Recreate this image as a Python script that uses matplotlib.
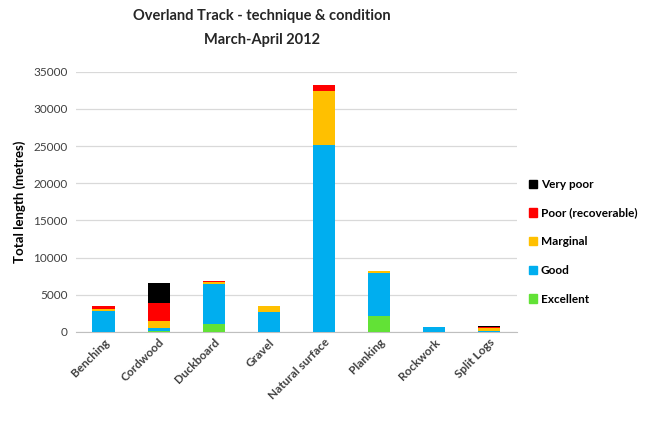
import numpy as np
import matplotlib.pyplot as plt
from matplotlib.patches import Patch

plt.rcParams['font.family'] = ['Lato', 'DejaVu Sans']

techniques = ['Benching', 'Cordwood', 'Duckboard', 'Gravel', 'Natural surface',
              'Planking', 'Rockwork', 'Split Logs']
excellent = [0, 150, 1100, 0, 0, 2100, 0, 0]
good = [2750, 350, 5300, 2650, 25100, 5850, 650, 100]
marginal = [350, 1000, 350, 800, 7300, 250, 0, 450]
poor = [400, 2400, 100, 0, 800, 0, 0, 150]
very_poor = [0, 2700, 0, 0, 0, 0, 0, 100]

series = [('Excellent', excellent, '#62e236'),
          ('Good', good, '#00aeef'),
          ('Marginal', marginal, '#ffc000'),
          ('Poor (recoverable)', poor, '#ff0000'),
          ('Very poor', very_poor, '#000000')]

fig = plt.figure(figsize=(6.66, 4.25), dpi=100)
ax = fig.add_axes([0.114, 0.219, 0.662, 0.612])

x = np.arange(len(techniques))
bottom = np.zeros(len(techniques))
for name, vals, col in series:
    ax.bar(x, vals, 0.4, bottom=bottom, color=col, zorder=3)
    bottom += np.array(vals)

ax.set_xlim(-0.5, len(techniques) - 0.5)
ax.set_ylim(0, 35000)
ax.set_yticks(np.arange(0, 35001, 5000))
ax.yaxis.grid(True, color='#d9d9d9', linewidth=0.9, zorder=0)
for s in ['top', 'right', 'left']:
    ax.spines[s].set_visible(False)
ax.spines['bottom'].set_color('#bfbfbf')
ax.tick_params(axis='both', length=0, labelsize=8.5, labelcolor='#404040')
ax.tick_params(axis='y', pad=6)
ax.set_xticks(x)
ax.set_xticklabels(techniques, rotation=45, ha='right', rotation_mode='anchor',
                   fontweight='bold', fontsize=8.5)
ax.set_ylabel('Total length (metres)', fontweight='bold', fontsize=9.5, labelpad=5)

# title sits left of the plot centre, as in the original
fig.text(0.393, 0.962, 'Overland Track - technique & condition', ha='center', va='center',
         fontweight='bold', fontsize=10.5, color='#262626')
fig.text(0.393, 0.906, 'March-April 2012', ha='center', va='center',
         fontweight='bold', fontsize=10.5, color='#262626')

handles = [Patch(color=col, label=name) for name, vals, col in reversed(series)]
leg = fig.legend(handles=handles, loc='center left', bbox_to_anchor=(0.778, 0.431),
                 frameon=False, fontsize=8.5, handlelength=0.7, handleheight=0.7,
                 handletextpad=0.3, labelspacing=1.5)
for t in leg.get_texts():
    t.set_fontweight('bold')

fig.savefig('out.png', dpi=100)
